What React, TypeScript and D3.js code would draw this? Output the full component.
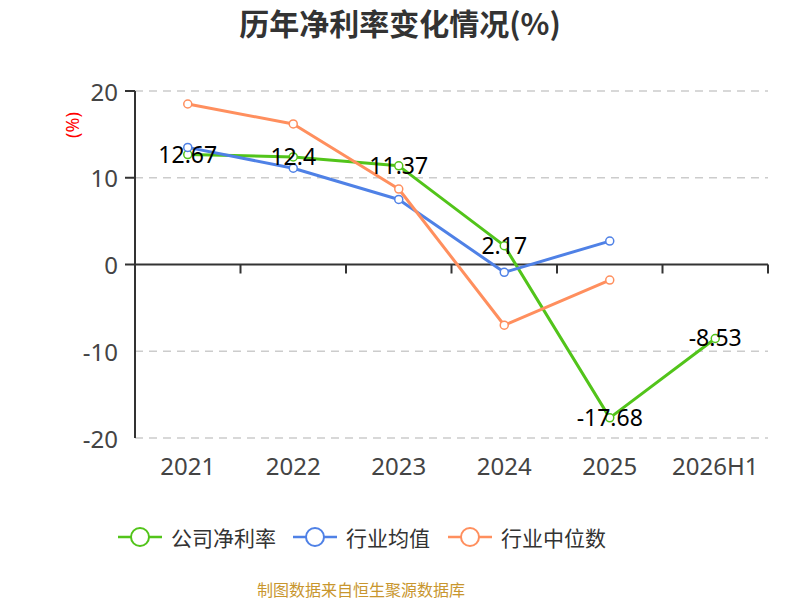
import { useEffect, useRef } from 'react'
import * as d3 from 'd3'

const years = ['2021', '2022', '2023', '2024', '2025', '2026H1']
const companyMargin = [12.67, 12.4, 11.37, 2.17, -17.68, -8.53]
const industryMean = [13.5, 11.1, 7.5, -0.9, 2.7, null]
const industryMedian = [18.5, 16.2, 8.7, -7.0, -1.8, null]
const yTicks = [-20, -10, 0, 10, 20]

const series = [
  { name: '公司净利率', values: companyMargin, color: '#52c41a', labels: true },
  { name: '行业均值', values: industryMean, color: '#4f81e6', labels: false },
  { name: '行业中位数', values: industryMedian, color: '#ff8f5e', labels: false },
]

const FONT = "'Noto Sans', 'Noto Sans CJK SC', sans-serif"
const CJK = "'Noto Sans CJK SC', 'Noto Sans', sans-serif"

export default function App() {
  const svgRef = useRef<SVGSVGElement>(null)

  useEffect(() => {
    const svg = d3.select(svgRef.current)
    svg.selectAll('*').remove()
    const W = 800, H = 600
    const left = 135, right = 768, top = 91, bottom = 438

    const x = d3.scaleBand<string>().domain(years).range([left, right])
    const y = d3.scaleLinear().domain([-20, 20]).range([bottom, top])
    const cx = (d: string) => (x(d) ?? 0) + x.bandwidth() / 2

    const g = svg.attr('width', W).attr('height', H).append('g')
    g.append('rect').attr('width', W).attr('height', H).attr('fill', '#fff')

    // Title
    g.append('text').attr('x', W / 2).attr('y', 22).attr('text-anchor', 'middle')
      .attr('dominant-baseline', 'central').attr('font-family', CJK)
      .attr('font-size', '30px').attr('font-weight', 'bold').attr('fill', '#333')
      .text('历年净利率变化情况(%)')

    // Y unit label
    g.append('text').attr('transform', 'translate(72,125) rotate(-90)')
      .attr('text-anchor', 'middle').attr('dominant-baseline', 'central')
      .attr('font-family', FONT).attr('font-size', '18px').attr('fill', '#ff0000')
      .text('(%)')

    // Grid
    yTicks.filter((t) => t !== 0).forEach((t) => {
      g.append('line').attr('x1', left).attr('x2', right).attr('y1', y(t)).attr('y2', y(t))
        .attr('stroke', '#cccccc').attr('stroke-width', 1.5).attr('stroke-dasharray', '8,6')
    })

    // Y axis
    g.append('line').attr('x1', left).attr('x2', left).attr('y1', top).attr('y2', bottom)
      .attr('stroke', '#333').attr('stroke-width', 2)
    yTicks.forEach((t) => {
      if (t >= 0) {
        g.append('line').attr('x1', left - 10).attr('x2', left).attr('y1', y(t)).attr('y2', y(t))
          .attr('stroke', '#333').attr('stroke-width', 2)
      }
      g.append('text').attr('x', left - 17).attr('y', y(t)).attr('text-anchor', 'end')
        .attr('dominant-baseline', 'central').attr('font-family', FONT)
        .attr('font-size', '24px').attr('fill', '#444').text(String(t))
    })

    // X axis at zero
    g.append('line').attr('x1', left).attr('x2', right).attr('y1', y(0)).attr('y2', y(0))
      .attr('stroke', '#333').attr('stroke-width', 2)
    const bounds = years.map((d) => x(d) ?? 0).concat([right])
    bounds.forEach((b) => {
      g.append('line').attr('x1', b).attr('x2', b).attr('y1', y(0)).attr('y2', y(0) + 9)
        .attr('stroke', '#333').attr('stroke-width', 2)
    })
    years.forEach((d) => {
      g.append('text').attr('x', cx(d)).attr('y', 465).attr('text-anchor', 'middle')
        .attr('dominant-baseline', 'central').attr('font-family', FONT)
        .attr('font-size', '24px').attr('fill', '#444').text(d)
    })

    // Lines
    series.forEach((s) => {
      const pts = years.map((d, i) => ({ d, v: s.values[i] })).filter((p) => p.v !== null) as { d: string; v: number }[]
      const line = d3.line<{ d: string; v: number }>().x((p) => cx(p.d)).y((p) => y(p.v))
      g.append('path').attr('d', line(pts) ?? '').attr('fill', 'none')
        .attr('stroke', s.color).attr('stroke-width', 3).attr('stroke-linejoin', 'round')
      pts.forEach((p) => {
        g.append('circle').attr('cx', cx(p.d)).attr('cy', y(p.v)).attr('r', 4)
          .attr('fill', '#fff').attr('stroke', s.color).attr('stroke-width', 1.5)
      })
    })

    // Data labels
    series.filter((s) => s.labels).forEach((s) => {
      years.forEach((d, i) => {
        const v = s.values[i]
        if (v === null) return
        g.append('text').attr('x', cx(d)).attr('y', y(v) - 1).attr('text-anchor', 'middle')
          .attr('dominant-baseline', 'central').attr('font-family', FONT)
          .attr('font-size', '23px').attr('fill', '#000').text(String(v))
      })
    })

    // Legend
    const legendX = [118, 293, 448]
    series.forEach((s, i) => {
      const lx = legendX[i], ly = 537
      g.append('line').attr('x1', lx).attr('x2', lx + 44).attr('y1', ly).attr('y2', ly)
        .attr('stroke', s.color).attr('stroke-width', 2.5)
      g.append('circle').attr('cx', lx + 22).attr('cy', ly).attr('r', 9)
        .attr('fill', '#fff').attr('stroke', s.color).attr('stroke-width', 2)
      g.append('text').attr('x', lx + 53).attr('y', ly).attr('dominant-baseline', 'central')
        .attr('font-family', CJK).attr('font-size', '21px').attr('fill', '#333').text(s.name)
    })

    // Source
    g.append('text').attr('x', W / 2 - 39).attr('y', 589).attr('text-anchor', 'middle')
      .attr('dominant-baseline', 'central').attr('font-family', CJK)
      .attr('font-size', '16px').attr('fill', '#c8962e').text('制图数据来自恒生聚源数据库')
  }, [])

  return (
    <div style={{ position: 'absolute', left: 0, top: 0, width: 800, height: 600 }}>
      <svg ref={svgRef} style={{ display: 'block' }} />
    </div>
  )
}
